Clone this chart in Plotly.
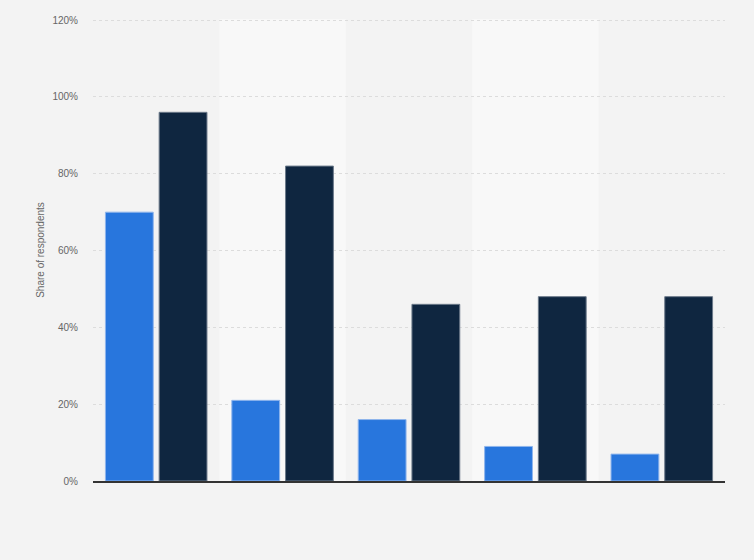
import plotly.graph_objects as go

categories = ["Category 1", "Category 2", "Category 3", "Category 4", "Category 5"]
series_a = [70, 21, 16, 9, 7]
series_b = [96, 82, 46, 48, 48]
y_ticks = [0, 20, 40, 60, 80, 100, 120]
y_tick_labels = ["0%", "20%", "40%", "60%", "80%", "100%", "120%"]

fig = go.Figure()
fig.add_trace(go.Bar(x=categories, y=series_a, name="Series A",
                     marker=dict(color="#2876dd", line=dict(color="#8fb5ec", width=1))))
fig.add_trace(go.Bar(x=categories, y=series_b, name="Series B",
                     marker=dict(color="#0f2640", line=dict(color="#6c7a8a", width=1))))

shapes = []
for i in (1, 3):
    shapes.append(dict(type="rect", xref="x", yref="paper", x0=i - 0.5, x1=i + 0.5,
                       y0=0, y1=1, fillcolor="#f8f8f8", line=dict(width=0), layer="below"))

fig.update_layout(
    width=754, height=560,
    margin=dict(l=93, r=29, t=19, b=79),
    paper_bgcolor="#f3f3f3", plot_bgcolor="#f3f3f3",
    barmode="group", bargap=0.15, bargroupgap=0.11,
    showlegend=False,
    shapes=shapes,
    font=dict(family="Liberation Sans, Arial, sans-serif", size=10, color="#666666"),
    xaxis=dict(showticklabels=False, showgrid=False, zeroline=False,
               showline=True, linecolor="#333333", linewidth=1.5, ticks=""),
    yaxis=dict(range=[0, 120.3], tickvals=y_ticks, ticktext=y_tick_labels,
               showgrid=True, gridcolor="#dcdcdc", griddash="dot", gridwidth=1,
               zeroline=False, showline=False, ticks="", ticklabelstandoff=14,
               tickfont=dict(size=10, color="#666666"),
               title=dict(text="Share of respondents", font=dict(size=10, color="#666666"),
                          standoff=5)),
)

fig.write_html("out.html", config={"displayModeBar": False})

with open("out.html", "r", encoding="utf-8") as f:
    html = f.read()
html = html.replace("<head>", "<head><style>html,body{margin:0;padding:0;background:#f3f3f3;}</style>", 1)
with open("out.html", "w", encoding="utf-8") as f:
    f.write(html)
